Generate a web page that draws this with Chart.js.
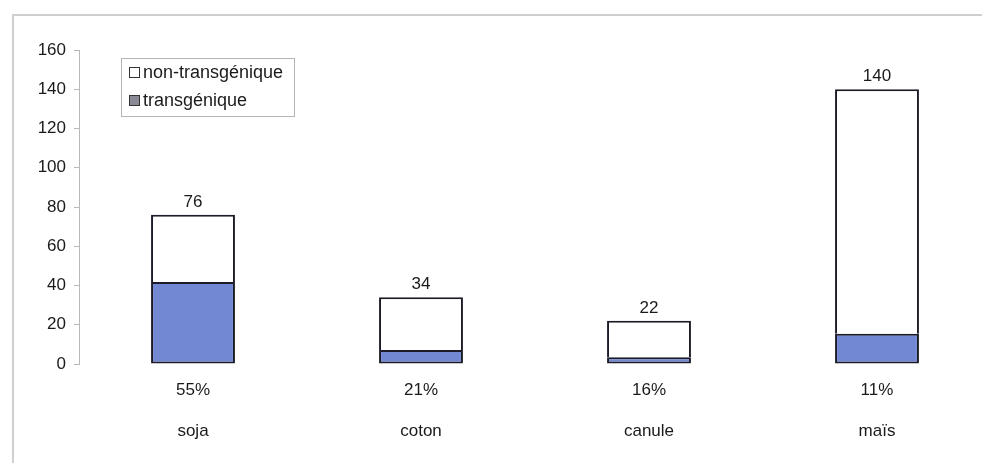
<!DOCTYPE html>
<html lang="fr">
<head>
<meta charset="utf-8">
<title>Cultures transgéniques</title>
<script src="https://cdn.jsdelivr.net/npm/chart.js@4.4.1/dist/chart.umd.min.js"></script>
<style>
  html, body { margin: 0; padding: 0; background: #ffffff; overflow: hidden; }
  #wrap { width: 982px; height: 463px; overflow: hidden; position: relative; }
  #chart { display: block; }
</style>
</head>
<body>
<div id="wrap"><canvas id="chart" width="1000" height="463"></canvas></div>
<script>
// Cultures (millions d'hectares) et part transgénique
const categories = ['soja', 'coton', 'canule', 'maïs'];
const shareLabels = ['55%', '21%', '16%', '11%'];
const totals = [76, 34, 22, 140];
const transgenic = [41.8, 7.1, 3.5, 15.4];
const nonTransgenic = [34.2, 26.9, 18.5, 124.6];
const yTicks = [0, 20, 40, 60, 80, 100, 120, 140, 160];

const FONT = '"Liberation Sans", Arial, sans-serif';
const TEXT = '#1a1a1a';
const BLUE = '#7388d2';
const EDGE = '#1c1c28';

// light outer frame
const framePlugin = {
  id: 'frame',
  beforeDraw(chart) {
    const ctx = chart.ctx;
    ctx.save();
    ctx.strokeStyle = '#cfcfcf';
    ctx.lineWidth = 2;
    ctx.strokeRect(13, 15, 1200, 600);
    ctx.restore();
  }
};

// totals written above each stacked bar
const totalsPlugin = {
  id: 'totals',
  afterDatasetsDraw(chart) {
    const ctx = chart.ctx;
    const xs = chart.scales.x, ys = chart.scales.y;
    ctx.save();
    ctx.font = '17px ' + FONT;
    ctx.fillStyle = TEXT;
    ctx.textAlign = 'center';
    ctx.textBaseline = 'middle';
    totals.forEach((t, i) => {
      ctx.fillText(String(t), xs.getPixelForValue(i), ys.getPixelForValue(t) - 13);
    });
    ctx.restore();
  }
};

// boxed legend inside the plot area
const legendPlugin = {
  id: 'boxLegend',
  afterDraw(chart) {
    const ctx = chart.ctx;
    const items = [
      { text: 'non-transgénique', fill: '#ffffff' },
      { text: 'transgénique', fill: '#8a8a96' }
    ];
    ctx.save();
    ctx.fillStyle = '#ffffff';
    ctx.fillRect(121, 58, 173, 58);
    ctx.strokeStyle = '#b5b5b5';
    ctx.lineWidth = 1;
    ctx.strokeRect(121.5, 58.5, 173, 58);
    ctx.font = '18px ' + FONT;
    ctx.textBaseline = 'middle';
    ctx.textAlign = 'left';
    items.forEach((it, k) => {
      const cy = 73 + k * 28;
      ctx.fillStyle = it.fill;
      ctx.fillRect(129, cy - 5, 10, 10);
      ctx.strokeStyle = '#333333';
      ctx.lineWidth = 1;
      ctx.strokeRect(129.5, cy - 5.5, 10, 10);
      ctx.fillStyle = TEXT;
      ctx.fillText(it.text, 143, cy);
    });
    ctx.restore();
  }
};

new Chart(document.getElementById('chart'), {
  type: 'bar',
  data: {
    labels: categories.map((c, i) => [shareLabels[i], c]),
    datasets: [
      {
        label: 'transgénique',
        data: transgenic,
        backgroundColor: BLUE,
        borderColor: EDGE,
        borderWidth: 2,
        borderSkipped: false
      },
      {
        label: 'non-transgénique',
        data: nonTransgenic,
        backgroundColor: '#ffffff',
        borderColor: EDGE,
        borderWidth: 2,
        borderSkipped: 'bottom'
      }
    ]
  },
  options: {
    responsive: false,
    animation: false,
    devicePixelRatio: 1,
    layout: { padding: { top: 50, right: 9, left: 0, bottom: 0 } },
    datasets: { bar: { categoryPercentage: 1, barPercentage: 0.368 } },
    plugins: {
      legend: { display: false },
      tooltip: { enabled: false }
    },
    scales: {
      x: {
        stacked: true,
        grid: { display: false, drawTicks: false },
        border: { display: false },
        ticks: {
          color: TEXT,
          padding: 6,
          maxRotation: 0,
          autoSkip: false,
          font: { family: FONT, size: 17, lineHeight: 2.41 }
        },
        afterFit(scale) { scale.height = 99; }
      },
      y: {
        stacked: true,
        min: 0,
        max: 160,
        afterBuildTicks(scale) { scale.ticks = yTicks.map(v => ({ value: v })); },
        grid: { drawOnChartArea: false, drawTicks: true, tickLength: 5, color: '#b8b8b8' },
        border: { display: true, color: '#b8b8b8', width: 1 },
        ticks: {
          color: TEXT,
          padding: 8,
          font: { family: FONT, size: 17 }
        },
        afterFit(scale) { scale.width = 79; }
      }
    }
  },
  plugins: [framePlugin, totalsPlugin, legendPlugin]
});
</script>
</body>
</html>
